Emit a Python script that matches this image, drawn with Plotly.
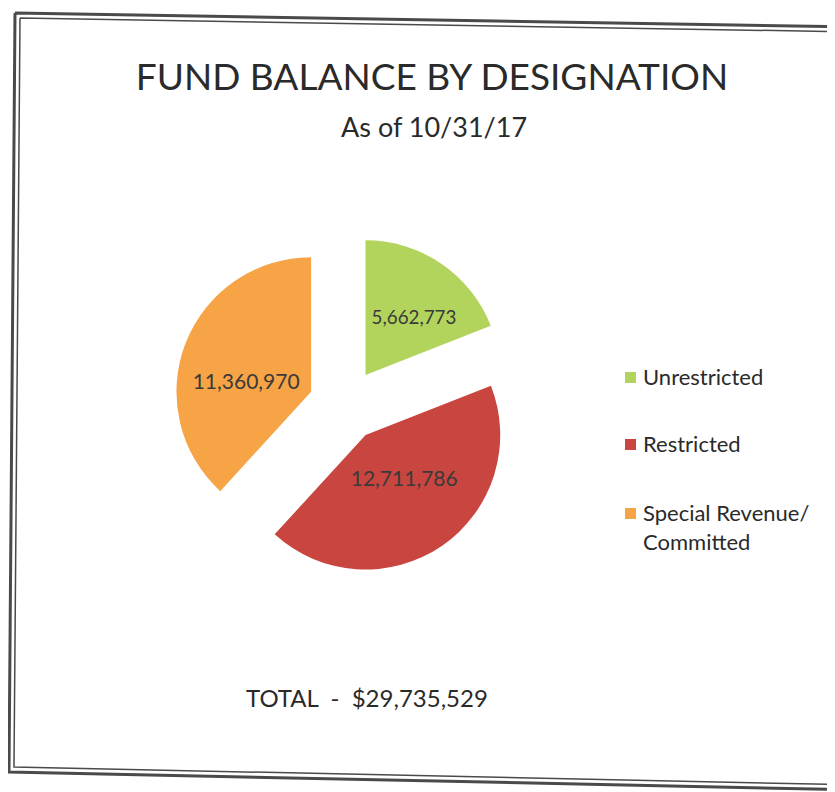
import plotly.graph_objects as go

labels = ["Unrestricted", "Restricted", "Special Revenue/<br>Committed"]
values = [5662773, 12711786, 11360970]
colors = ["#B3D45C", "#C8463F", "#F6A446"]

W, H = 835, 792
total = sum(values)


def px(x):
    return x / W


def py(y):
    return 1 - y / H


fig = go.Figure()
fig.add_trace(go.Pie(
    labels=labels,
    values=values,
    sort=False,
    direction="clockwise",
    rotation=0,
    pull=[0.27, 0.27, 0.27],
    marker=dict(colors=colors, line=dict(width=0)),
    # blank lines nudge the labels to where the original sits them
    texttemplate=[" <br>%{value:,}", "%{value:,}<br> ", " <br>%{value:,}"],
    textposition="inside",
    insidetextorientation="horizontal",
    textfont=dict(family="Lato", size=21, color="#3a3a3a"),
    domain=dict(x=[px(166), px(508)], y=[py(569), py(225)]),
    hoverinfo="label+value",
    showlegend=False,
))

# legend drawn beside the pie, one entry per slice
legend_y = [370, 437, 506]
for lab, col, ly in zip(labels, colors, legend_y):
    fig.add_shape(
        type="rect", xref="paper", yref="paper",
        x0=px(617), x1=px(628), y0=py(ly + 5), y1=py(ly - 6),
        fillcolor=col, line=dict(width=0),
    )
    fig.add_annotation(
        text=lab, x=px(633), y=py(ly - 17), xref="paper", yref="paper",
        xanchor="left", yanchor="top", align="left", showarrow=False,
        font=dict(family="Lato", size=22, color="#2a2a2a"),
    )

# scanned page border (double line, slightly skewed)
for off, w in [(0, 3), (5, 1.5)]:
    fig.add_shape(
        type="path", xref="paper", yref="paper",
        path=(f"M {px(7 + off)},{py(5 + off)} "
              f"L {1.02},{py(19 + off)} "
              f"M {px(7 + off)},{py(5 + off)} "
              f"L {px(1 + off)},{py(764 - off)} "
              f"L {1.02},{py(782 - off)}"),
        line=dict(color="#4a4a4a", width=w),
    )

fig.add_annotation(
    text=f"TOTAL  -  ${total:,}",
    x=px(236), y=py(689), xref="paper", yref="paper",
    xanchor="left", yanchor="middle",
    showarrow=False, font=dict(family="Lato", size=24, color="#2a2a2a"),
)

fig.add_annotation(
    text="As of 10/31/17",
    x=px(426), y=py(118), xref="paper", yref="paper",
    xanchor="center", yanchor="middle",
    showarrow=False, font=dict(family="Lato", size=27, color="#2a2a2a"),
)

fig.update_layout(
    width=W, height=H,
    margin=dict(l=0, r=0, t=0, b=0),
    paper_bgcolor="white",
    plot_bgcolor="white",
    title=dict(
        text="FUND BALANCE BY DESIGNATION",
        x=px(424), xanchor="center",
        y=py(69), yanchor="middle", yref="container",
        font=dict(family="Lato", size=37, color="#2a2a2a"),
    ),
)

fig.write_html("out.html")
